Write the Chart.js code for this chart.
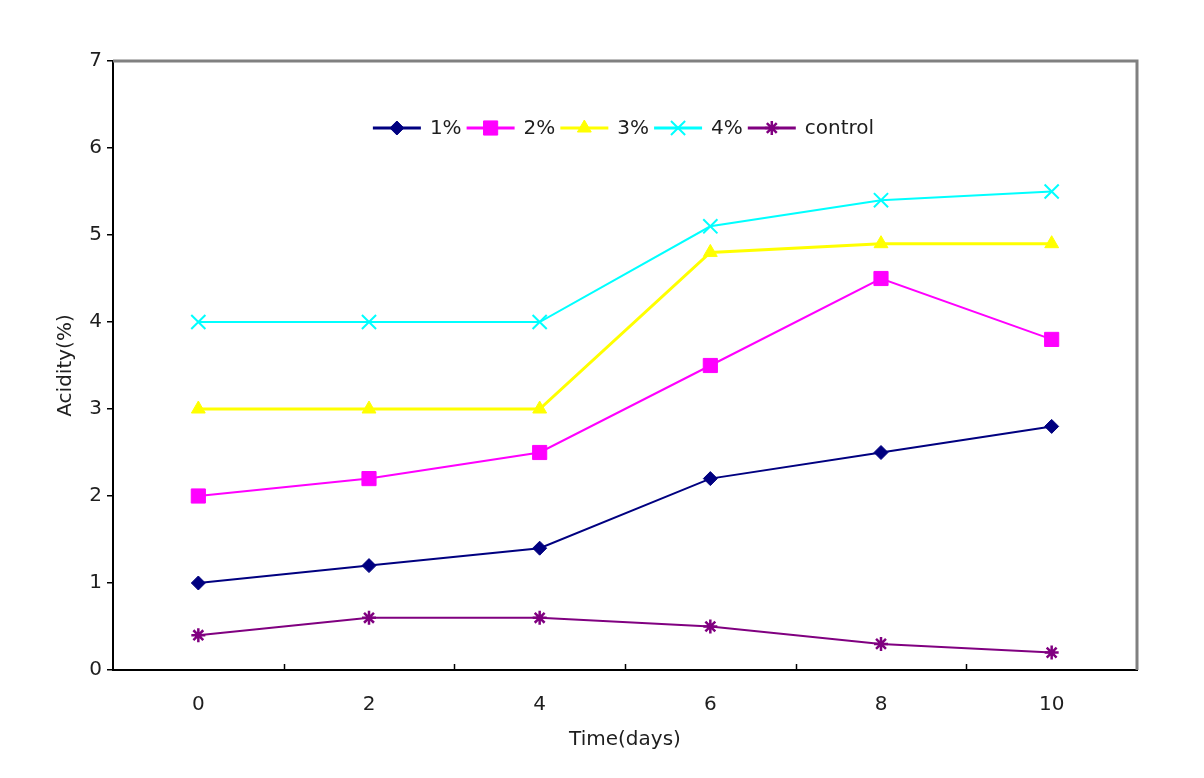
<!DOCTYPE html>
<html>
<head>
<meta charset="utf-8">
<script src="https://cdn.jsdelivr.net/npm/chart.js@4"></script>
<style>
  html, body { margin: 0; padding: 0; background: #fff; }
  #wrap { width: 1204px; height: 778px; }
</style>
</head>
<body>
<div id="wrap"><canvas id="acidity-chart" width="1204" height="778"></canvas></div>
<script>
// data
const days = ['0', '2', '4', '6', '8', '10'];
const yTicks = [0, 1, 2, 3, 4, 5, 6, 7];
const pct1 = [1.0, 1.2, 1.4, 2.2, 2.5, 2.8];
const pct2 = [2.0, 2.2, 2.5, 3.5, 4.5, 3.8];
const pct3 = [3.0, 3.0, 3.0, 4.8, 4.9, 4.9];
const pct4 = [4.0, 4.0, 4.0, 5.1, 5.4, 5.5];
const control = [0.4, 0.6, 0.6, 0.5, 0.3, 0.2];

const FONT = '"DejaVu Sans", Arial, sans-serif';
const TEXT = '#1e1e1e';

const makeSet = (label, data, color, style, radius, lineWidth, borderWidth) => ({
    label: label,
    data: data,
    borderColor: color,
    backgroundColor: color,
    borderWidth: lineWidth,
    pointStyle: style,
    pointRadius: radius,
    pointHoverRadius: radius,
    pointBorderWidth: borderWidth,
    pointBorderColor: color,
    pointBackgroundColor: color,
    tension: 0
});

// frame (gray top/right), inward x ticks and the legend inside the plot
const extrasPlugin = {
    id: 'extras',
    afterDraw(chart) {
        const {ctx, chartArea: a, scales: {x}} = chart;
        ctx.save();
        ctx.strokeStyle = '#808080';
        ctx.lineWidth = 3;
        ctx.beginPath();
        ctx.moveTo(a.left, a.top);
        ctx.lineTo(a.right, a.top);
        ctx.lineTo(a.right, a.bottom);
        ctx.stroke();

        // x tick marks between categories, pointing up
        ctx.strokeStyle = '#000';
        ctx.lineWidth = 1.5;
        for (let i = 0; i < days.length - 1; i++) {
            const px = Math.round((x.getPixelForValue(i) + x.getPixelForValue(i + 1)) / 2) + 0.5;
            ctx.beginPath();
            ctx.moveTo(px, a.bottom);
            ctx.lineTo(px, a.bottom - 6);
            ctx.stroke();
        }

        // legend
        ctx.font = '20px ' + FONT;
        ctx.textBaseline = 'middle';
        const lineLen = 48, gapText = 9, gapNext = 5;
        const sets = chart.data.datasets;
        let total = 0;
        sets.forEach(ds => { total += lineLen + gapText + ctx.measureText(ds.label).width + gapNext; });
        let lx = 626 - total / 2;
        const ly = 128;
        sets.forEach(ds => {
            ctx.strokeStyle = ds.borderColor;
            ctx.fillStyle = ds.borderColor;
            ctx.lineWidth = 3;
            ctx.beginPath();
            ctx.moveTo(lx, ly);
            ctx.lineTo(lx + lineLen, ly);
            ctx.stroke();
            ctx.lineWidth = ds.pointBorderWidth;
            Chart.helpers.drawPoint(ctx, {
                pointStyle: ds.pointStyle,
                radius: ds.pointRadius,
                rotation: 0,
                borderWidth: ds.pointBorderWidth
            }, lx + lineLen / 2, ly);
            ctx.fillStyle = TEXT;
            ctx.fillText(ds.label, lx + lineLen + gapText, ly + 1);
            lx += lineLen + gapText + ctx.measureText(ds.label).width + gapNext;
        });
        ctx.restore();
    }
};

const ctx = document.getElementById('acidity-chart').getContext('2d');
new Chart(ctx, {
    type: 'line',
    data: {
        labels: days,
        datasets: [
            makeSet('1%', pct1, '#000080', 'rectRot', 7, 2, 1),
            makeSet('2%', pct2, '#FF00FF', 'rect', 10, 2, 1),
            makeSet('3%', pct3, '#FFFF00', 'triangle', 8, 3, 1),
            makeSet('4%', pct4, '#00FFFF', 'crossRot', 10, 2, 2),
            makeSet('control', control, '#800080', 'star', 7, 2, 2.5)
        ]
    },
    options: {
        responsive: false,
        animation: false,
        layout: { padding: { top: 61, right: 67, left: 0, bottom: 0 } },
        plugins: {
            legend: { display: false },
            tooltip: { enabled: false }
        },
        scales: {
            x: {
                offset: true,
                afterFit: (scale) => { scale.height = 108; },
                grid: { display: false, drawTicks: false },
                border: { display: true, color: '#000', width: 2 },
                ticks: {
                    color: TEXT,
                    padding: 23,
                    maxRotation: 0,
                    font: { family: FONT, size: 20 }
                },
                title: {
                    display: true,
                    text: 'Time(days)',
                    color: TEXT,
                    padding: { top: 0, bottom: 26 },
                    font: { family: FONT, size: 20 }
                }
            },
            y: {
                min: 0,
                max: 7,
                afterFit: (scale) => { scale.width = 113; },
                afterBuildTicks: (scale) => { scale.ticks = yTicks.map(v => ({ value: v })); },
                grid: {
                    drawOnChartArea: false,
                    drawTicks: true,
                    tickLength: 6,
                    color: '#000',
                    lineWidth: 1.5
                },
                border: { display: true, color: '#000', width: 2 },
                ticks: {
                    color: TEXT,
                    padding: 5,
                    font: { family: FONT, size: 20 }
                },
                title: {
                    display: true,
                    text: 'Acidity(%)',
                    color: TEXT,
                    padding: { top: 54, bottom: 0 },
                    font: { family: FONT, size: 20 }
                }
            }
        }
    },
    plugins: [extrasPlugin]
});
</script>
</body>
</html>
